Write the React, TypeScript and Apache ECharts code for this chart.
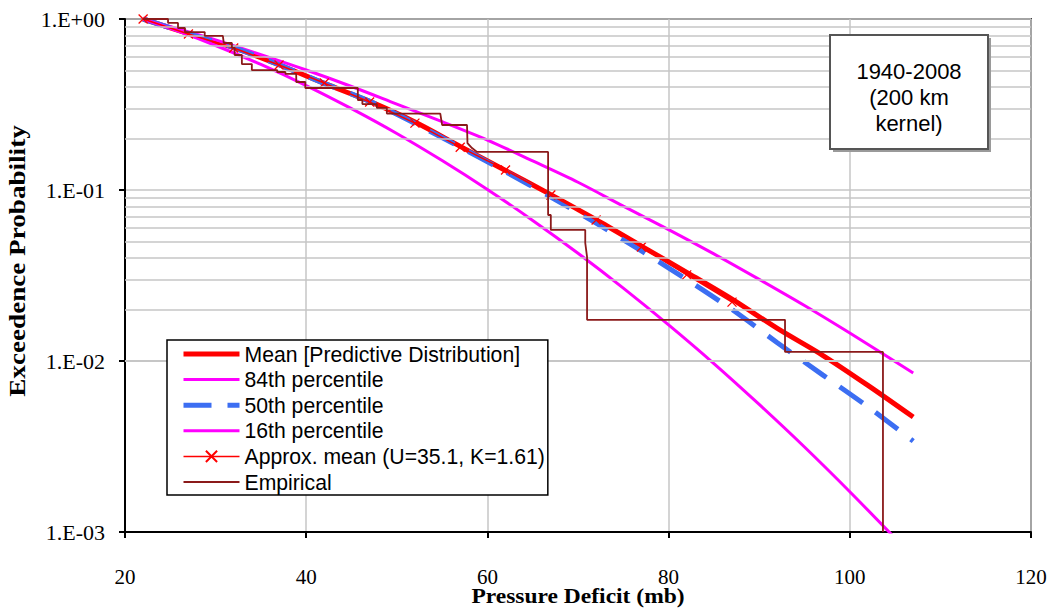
import React, { useEffect, useRef } from 'react';
import * as echarts from 'echarts';

// ---- data ----
const xTicks = [20, 40, 60, 80, 100, 120];
const yTickLabels: Record<string, string> = { '0': '1.E+00', '-1': '1.E-01', '-2': '1.E-02', '-3': '1.E-03' };
const minorGridValues = [
  0.002, 0.003, 0.004, 0.005, 0.006, 0.007, 0.008, 0.009,
  0.02, 0.03, 0.04, 0.05, 0.06, 0.07, 0.08, 0.09,
  0.2, 0.3, 0.4, 0.5, 0.6, 0.7, 0.8, 0.9,
];

const meanX = [22, 27, 32, 37, 42, 47, 52, 57, 62, 67, 72, 77, 82, 87, 92, 97, 102, 107];
const meanP = [1.0, 0.82, 0.68, 0.54, 0.42, 0.33, 0.25, 0.18, 0.13, 0.094, 0.067, 0.047, 0.033, 0.023, 0.0155, 0.0108, 0.0072, 0.0047];
const p50P = [1.0, 0.82, 0.68, 0.54, 0.42, 0.33, 0.245, 0.178, 0.128, 0.091, 0.064, 0.044, 0.030, 0.020, 0.0128, 0.0083, 0.0054, 0.0034];

const p84X = [22, 26, 30, 35, 40, 45, 50, 55, 60, 65, 70, 75, 80, 85, 90, 95, 100, 107];
const p84P = [1.0, 0.871, 0.755, 0.619, 0.503, 0.403, 0.318, 0.251, 0.196, 0.148, 0.111, 0.0805, 0.0587, 0.0423, 0.0300, 0.0211, 0.01456, 0.0085];

const p16X = [22, 26, 30, 35, 40, 45, 50, 55, 60, 65, 70, 75, 80, 85, 90, 95, 100, 105];
const p16P = [1.0, 0.844, 0.700, 0.542, 0.408, 0.299, 0.214, 0.1486, 0.1007, 0.0664, 0.0427, 0.0267, 0.01626, 0.00966, 0.00557, 0.00314, 0.00172, 0.00092];

const approxX = [22, 27, 32, 37, 42, 47, 52, 57, 62, 67, 72, 77, 82, 87];
const approxP = [1.0, 0.817, 0.677, 0.538, 0.422, 0.327, 0.246, 0.178, 0.131, 0.0935, 0.0668, 0.0464, 0.0319, 0.0221];

const empiricalX = [22.0, 24.75, 24.75, 25.85, 25.85, 26.62, 26.62, 28.8, 28.8, 30.8, 30.9, 31.8, 31.8, 32.1, 32.1, 32.9, 32.9, 34.0, 34.0, 36.8, 36.8, 37.7, 37.7, 38.9, 38.9, 39.9, 39.9, 45.7, 45.7, 46.2, 46.2, 47.8, 47.8, 48.9, 48.9, 54.8, 55.0, 57.75, 57.8, 58.3, 58.85, 66.7, 66.7, 67.0, 67.0, 70.8, 70.8, 71.0, 71.0, 92.85, 92.85, 103.66, 103.66];
const empiricalP = [1.0, 1.0, 0.948, 0.948, 0.886, 0.886, 0.839, 0.839, 0.796, 0.796, 0.724, 0.724, 0.677, 0.677, 0.616, 0.616, 0.545, 0.545, 0.503, 0.503, 0.490, 0.490, 0.477, 0.477, 0.428, 0.428, 0.395, 0.395, 0.336, 0.336, 0.318, 0.318, 0.302, 0.302, 0.280, 0.280, 0.240, 0.240, 0.188, 0.176, 0.167, 0.167, 0.0714, 0.0714, 0.0584, 0.0584, 0.049, 0.0406, 0.0174, 0.0174, 0.0113, 0.0113, 0.001];

const legendNames = [
  'Mean [Predictive Distribution]',
  '84th percentile',
  '50th percentile',
  '16th percentile',
  'Approx. mean (U=35.1, K=1.61)',
  'Empirical',
];
const legendLineWidths = [5, 3, 5, 3, 1.5, 1.8];
const legendHasMarker = [false, false, false, false, true, false];
const boxLines = ['1940-2008', '(200 km', 'kernel)'];
const xTitle = 'Pressure Deficit (mb)';
const yTitle = 'Exceedence Probability';

const zip = (xs: number[], ys: number[]) => xs.map((x, i) => [x, ys[i]]);

const SERIF = '"Liberation Serif", "Times New Roman", serif';
const SANS = '"Liberation Sans", Arial, sans-serif';

export default function App() {
  const ref = useRef<HTMLDivElement>(null);
  useEffect(() => {
    if (!ref.current) return;
    const chart = echarts.init(ref.current, undefined, { renderer: 'svg' });
    const gridColor = '#c6c6c6';
    const option: any = {
      animation: false,
      backgroundColor: '#ffffff',
      grid: { left: 125, right: 19, top: 19, bottom: 76, show: true, borderColor: '#404040', borderWidth: 2, backgroundColor: 'transparent' },
      xAxis: {
        type: 'value', min: xTicks[0], max: xTicks[xTicks.length - 1], interval: 20,
        axisLine: { show: true, lineStyle: { color: '#000', width: 2 } },
        axisTick: { show: true, length: 6, lineStyle: { color: '#000', width: 2 } },
        axisLabel: { fontFamily: SERIF, fontSize: 21, color: '#000', margin: 34 },
        splitLine: { show: true, lineStyle: { color: gridColor, width: 1.5 } },
      },
      yAxis: {
        type: 'log', logBase: 10, min: 0.001, max: 1,
        axisLine: { show: true, lineStyle: { color: '#000', width: 2 } },
        axisTick: { show: true, length: 6, lineStyle: { color: '#000', width: 2 } },
        axisLabel: {
          fontFamily: SERIF, fontSize: 22, color: '#000', margin: 20,
          formatter: (v: number) => yTickLabels[String(Math.round(Math.log10(v)))] ?? '',
        },
        splitLine: { show: true, lineStyle: { color: gridColor, width: 1.5 } },
      },
      legend: {
        show: true, orient: 'vertical', left: 167, top: 340, z: 20,
        data: legendNames.map((n, i) => ({
          name: n,
          lineStyle: { width: legendLineWidths[i] },
          itemStyle: legendHasMarker[i] ? undefined : { opacity: 0, borderWidth: 0 },
        })),
        backgroundColor: '#fff', borderColor: '#000', borderWidth: 1.5, borderRadius: 0,
        padding: [3, 3, 2, 14], itemWidth: 56, itemHeight: 14, itemGap: 3.6,
        textStyle: { fontFamily: SANS, fontSize: 21.2, lineHeight: 22, color: '#000' },
        selectedMode: false,
      },
      graphic: [
        {
          type: 'group', left: 829, top: 34, z: 20,
          children: [
            { type: 'rect', z: 20, shape: { x: 3, y: 3, width: 158, height: 114 }, style: { fill: '#9a9a9a' } },
            { type: 'rect', z: 21, shape: { x: 0, y: 0, width: 158, height: 114 }, style: { fill: '#fff', stroke: '#555', lineWidth: 2 } },
            ...boxLines.map((t, i) => ({
              type: 'text', z: 22, x: 79, y: 36 + i * 26,
              style: { text: t, fill: '#000', font: `22px ${SANS}`, textAlign: 'center', textVerticalAlign: 'middle' },
            })),
          ],
        },
        {
          type: 'text', z: 20, x: 578, y: 596, scaleX: 1.12,
          style: { text: xTitle, fill: '#000', font: `bold 21px ${SERIF}`, textAlign: 'center', textVerticalAlign: 'middle' },
        },
        {
          type: 'text', z: 20, x: 17, y: 261, rotation: Math.PI / 2, scaleX: 1.18,
          style: { text: yTitle, fill: '#000', font: `bold 23px ${SERIF}`, textAlign: 'center', textVerticalAlign: 'middle' },
        },
      ],
      series: [
        {
          name: '__grid', type: 'line', data: [[20, 1]], symbol: 'none', silent: true, z: 1,
          lineStyle: { width: 0 },
          markLine: {
            silent: true, symbol: ['none', 'none'], label: { show: false }, animation: false,
            lineStyle: { color: gridColor, width: 1.5, type: 'solid' },
            data: minorGridValues.map((v) => ({ yAxis: v })),
          },
        },
        {
          name: legendNames[0], type: 'line', data: zip(meanX, meanP), symbol: 'none', smooth: 0.3, z: 3,
          lineStyle: { color: '#ff0000', width: 5 }, itemStyle: { color: '#ff0000' },
        },
        {
          name: legendNames[1], type: 'line', data: zip(p84X, p84P), symbol: 'none', smooth: 0.3, z: 3,
          lineStyle: { color: '#ff00ff', width: 3 }, itemStyle: { color: '#ff00ff' },
        },
        {
          name: legendNames[2], type: 'line', data: zip(meanX, p50P), symbol: 'none', smooth: 0.3, z: 3,
          lineStyle: { color: '#3c6ef2', width: 5, type: [28, 16] }, itemStyle: { color: '#3c6ef2' },
        },
        {
          name: legendNames[3], type: 'line', data: zip(p16X, p16P), symbol: 'none', smooth: 0.3, z: 3,
          lineStyle: { color: '#ff00ff', width: 3 }, itemStyle: { color: '#ff00ff' },
        },
        {
          name: legendNames[4], type: 'line', data: zip(approxX, approxP), z: 4,
          symbol: 'path://M0,0L10,10M10,0L0,10', symbolSize: 9, showSymbol: true,
          lineStyle: { color: '#ff0000', width: 1.5 },
          itemStyle: { color: '#ff0000', borderColor: '#ff0000', borderWidth: 1.3 },
        },
        {
          name: legendNames[5], type: 'line', data: zip(empiricalX, empiricalP), symbol: 'none', z: 5,
          lineStyle: { color: '#8b1a1a', width: 1.8 }, itemStyle: { color: '#8b1a1a' },
        },
      ],
    };
    chart.setOption(option);
    return () => chart.dispose();
  }, []);
  return <div ref={ref} style={{ position: 'absolute', left: 0, top: 0, width: 1050, height: 608 }} />;
}
